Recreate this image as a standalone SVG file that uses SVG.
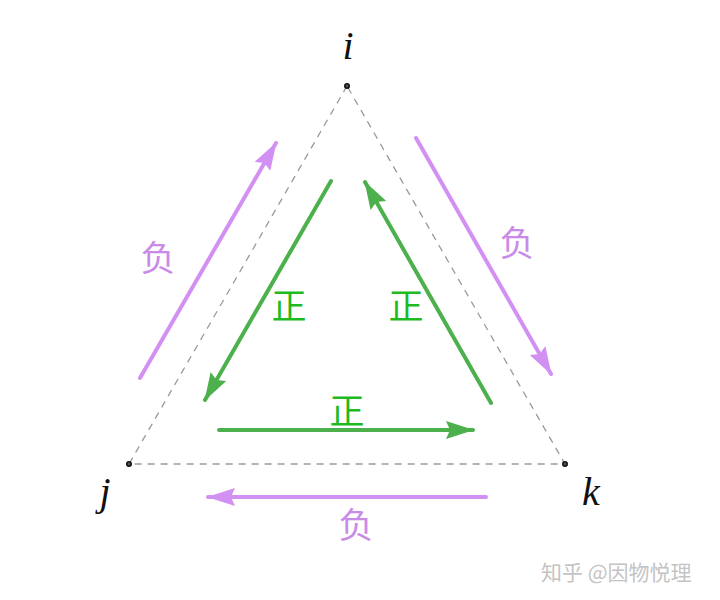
<svg xmlns="http://www.w3.org/2000/svg" width="720" height="600" viewBox="0 0 720 600">
<style>
.tri{fill:none;stroke:#9a9a9a;stroke-width:1.3;stroke-dasharray:7,6}
.g{stroke:#4cb04c;stroke-width:4;fill:none;stroke-linecap:round}
.p{stroke:#d291f2;stroke-width:4;fill:none;stroke-linecap:round}
.lg{font-family:"Noto Sans CJK SC",serif;font-size:35px;fill:#1fba1f;text-anchor:middle}
.lp{font-family:"Noto Sans CJK SC",serif;font-size:35px;fill:#c98ae8;text-anchor:middle}
.v{font-family:"Liberation Serif",serif;font-style:italic;font-size:40px;fill:#111;text-anchor:middle}
.wm{font-family:"Noto Sans CJK SC",sans-serif;font-size:21px;fill:#c4c4c4}
.dot{fill:#555;stroke:#111;stroke-width:1.6}
</style>
<defs>
<marker id="ag" viewBox="0 0 28 18" refX="27" refY="9" markerWidth="28" markerHeight="18" markerUnits="userSpaceOnUse" orient="auto"><path d="M0,0L28,9L0,18L4,9z" fill="#4cb04c"/></marker>
<marker id="ap" viewBox="0 0 28 18" refX="27" refY="9" markerWidth="28" markerHeight="18" markerUnits="userSpaceOnUse" orient="auto"><path d="M0,0L28,9L0,18L4,9z" fill="#d291f2"/></marker>
</defs>
<g id="triangle">
<path class="tri" d="M347,86L129,464L565,464Z"/>
</g>
<g id="node-i"><circle class="dot" cx="347" cy="86" r="2.2"/><text class="v" x="348" y="59">i</text></g>
<g id="node-j"><circle class="dot" cx="129" cy="464" r="2.2"/><text class="v" x="105" y="505">j</text></g>
<g id="node-k"><circle class="dot" cx="565" cy="464" r="2.2"/><text class="v" x="591" y="505">k</text></g>
<g id="connectors">
<path class="p" d="M140,378L276,143" marker-end="url(#ap)"/>
<path class="p" d="M416,138L551,374" marker-end="url(#ap)"/>
<path class="p" d="M486,497L208,497" marker-end="url(#ap)"/>
<path class="g" d="M331,181L205,400" marker-end="url(#ag)"/>
<path class="g" d="M491,403L365,182" marker-end="url(#ag)"/>
<path class="g" d="M219,430L473,430" marker-end="url(#ag)"/>
</g>
<g id="labels">
<text class="lp" x="158" y="271">负</text>
<text class="lp" x="517" y="256">负</text>
<text class="lp" x="356" y="538">负</text>
<text class="lg" x="289" y="319">正</text>
<text class="lg" x="406" y="319">正</text>
<text class="lg" x="347" y="424">正</text>
</g>
<text class="wm" x="541" y="580">知乎 @因物悦理</text>
</svg>
